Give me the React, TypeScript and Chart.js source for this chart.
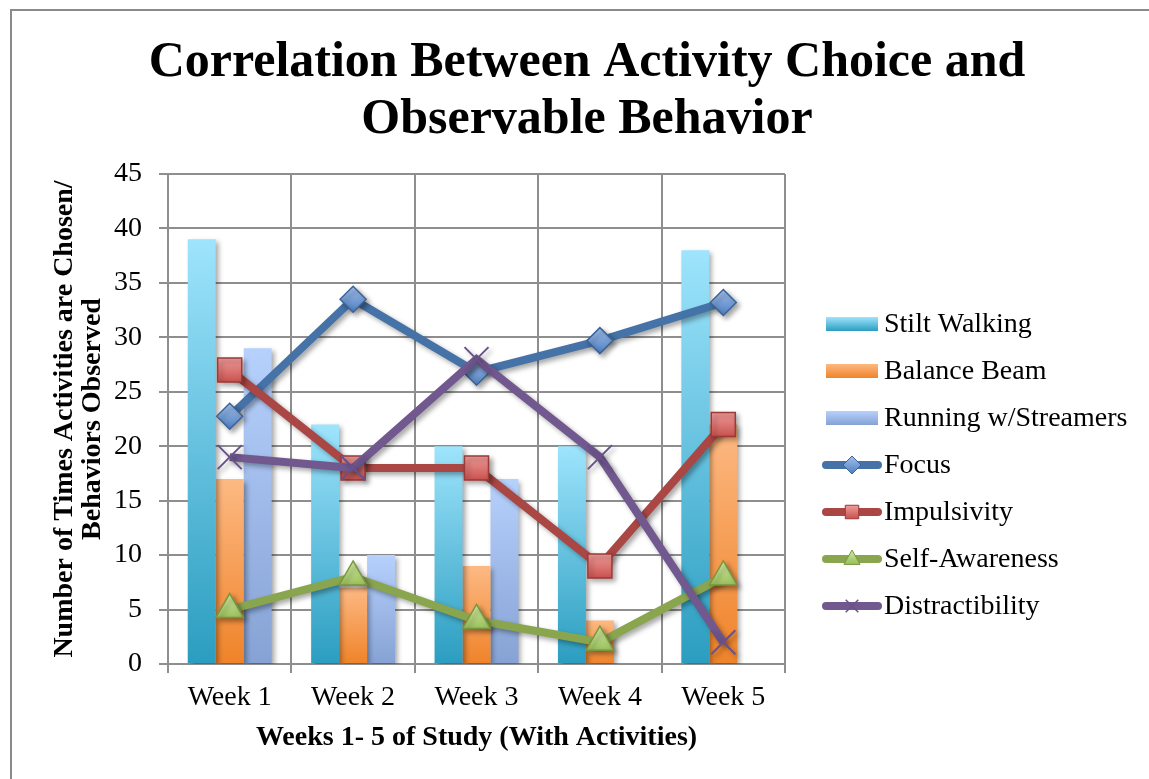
import React, { useEffect, useRef } from "react";
import { Chart, registerables } from "chart.js";

Chart.register(...registerables);

const weeks = ["Week 1", "Week 2", "Week 3", "Week 4", "Week 5"];
const stiltWalking = [39, 22, 20, 20, 38];
const balanceBeam = [17, 7, 9, 4, 22];
const runningStreamers = [29, 10, 17, 0, 0];
const focus = [22.75, 33.5, 26.8, 29.7, 33.2];
const impulsivity = [27, 18, 18, 9, 22];
const selfAwareness = [5, 8, 4, 2, 8];
const distractibility = [19, 18, 28, 19, 2];
const yTicks = [0, 5, 10, 15, 20, 25, 30, 35, 40, 45];

const titleLines = ["Correlation Between Activity Choice and", "Observable Behavior"];
const yTitle = ["Number of Times Activities are Chosen/", "Behaviors Observed"];
const xTitle = "Weeks 1- 5 of Study (With Activities)";

const SERIF = "'Liberation Serif', 'Times New Roman', serif";

const barColors = {
  stilt: ["#9EE4FC", "#2B9DC0"],
  balance: ["#FDB983", "#EF8329"],
  running: ["#B7D1FD", "#86A2D4"],
};
const lineColors = {
  focus: { line: "#4572A7", top: "#A3C0EC", bottom: "#4E7FC0", border: "#3B6398" },
  impulsivity: { line: "#AA4643", top: "#F6A9A8", bottom: "#C24440", border: "#9B3A37" },
  self: { line: "#89A54E", top: "#D1EAA2", bottom: "#8AB347", border: "#78963F" },
  distract: { line: "#71588F", top: "#71588F", bottom: "#71588F", border: "#6A518A" },
};

function barGradient(top: string, bottom: string) {
  return (c: any) => {
    const chart = c.chart;
    const { ctx, chartArea, scales } = chart;
    if (!chartArea || !scales.y || c.type !== "data") return top;
    const v = c.raw as number;
    const y0 = scales.y.getPixelForValue(v);
    const y1 = scales.y.getPixelForValue(0);
    if (!isFinite(y0) || !isFinite(y1) || y0 === y1) return top;
    const g = ctx.createLinearGradient(0, y0, 0, y1);
    g.addColorStop(0, top);
    g.addColorStop(1, bottom);
    return g;
  };
}

function pointGradient(top: string, bottom: string, r: number) {
  return (c: any) => {
    const chart = c.chart;
    const { ctx, chartArea, scales } = chart;
    if (!chartArea || !scales.y || c.type !== "data") return top;
    const y = scales.y.getPixelForValue(c.raw as number);
    if (!isFinite(y)) return top;
    const g = ctx.createLinearGradient(0, y - r, 0, y + r);
    g.addColorStop(0, top);
    g.addColorStop(1, bottom);
    return g;
  };
}

const framePlugin = {
  id: "frame",
  beforeDraw(chart: any) {
    const ctx = chart.ctx;
    ctx.save();
    ctx.fillStyle = "#ffffff";
    ctx.fillRect(0, 0, chart.width, chart.height);
    ctx.strokeStyle = "#8a8a8a";
    ctx.lineWidth = 2;
    ctx.beginPath();
    ctx.moveTo(chart.width + 5, 10);
    ctx.lineTo(11, 10);
    ctx.lineTo(11, chart.height + 5);
    ctx.stroke();
    // title
    ctx.fillStyle = "#000";
    ctx.font = `bold 50px ${SERIF}`;
    ctx.textAlign = "center";
    ctx.textBaseline = "alphabetic";
    ctx.fillText(titleLines[0], 587, 76);
    ctx.fillText(titleLines[1], 587, 133);
    ctx.restore();
  },
};

const shadowPlugin = {
  id: "shadow",
  beforeDatasetDraw(chart: any) {
    const ctx = chart.ctx;
    ctx.save();
    ctx.shadowColor = "rgba(0,0,0,0.35)";
    ctx.shadowBlur = 5;
    ctx.shadowOffsetX = 3;
    ctx.shadowOffsetY = 3;
  },
  afterDatasetDraw(chart: any) {
    chart.ctx.restore();
  },
};

function drawMarker(ctx: CanvasRenderingContext2D, kind: string, x: number, y: number, s: number, col: any) {
  ctx.beginPath();
  if (kind === "diamond") {
    ctx.moveTo(x, y - s);
    ctx.lineTo(x + s, y);
    ctx.lineTo(x, y + s);
    ctx.lineTo(x - s, y);
    ctx.closePath();
  } else if (kind === "square") {
    ctx.rect(x - s * 0.75, y - s * 0.75, s * 1.5, s * 1.5);
  } else if (kind === "triangle") {
    ctx.moveTo(x, y - s);
    ctx.lineTo(x + s * 0.9, y + s * 0.6);
    ctx.lineTo(x - s * 0.9, y + s * 0.6);
    ctx.closePath();
  } else {
    ctx.moveTo(x - s * 0.7, y - s * 0.7);
    ctx.lineTo(x + s * 0.7, y + s * 0.7);
    ctx.moveTo(x + s * 0.7, y - s * 0.7);
    ctx.lineTo(x - s * 0.7, y + s * 0.7);
    ctx.strokeStyle = col.border;
    ctx.lineWidth = 1.5;
    ctx.stroke();
    return;
  }
  const g = ctx.createLinearGradient(0, y - s, 0, y + s);
  g.addColorStop(0, col.top);
  g.addColorStop(1, col.bottom);
  ctx.fillStyle = g;
  ctx.fill();
  ctx.strokeStyle = col.border;
  ctx.lineWidth = 1;
  ctx.stroke();
}

const legendItems = [
  { label: "Stilt Walking", type: "bar", colors: barColors.stilt },
  { label: "Balance Beam", type: "bar", colors: barColors.balance },
  { label: "Running w/Streamers", type: "bar", colors: barColors.running },
  { label: "Focus", type: "line", marker: "diamond", colors: lineColors.focus },
  { label: "Impulsivity", type: "line", marker: "square", colors: lineColors.impulsivity },
  { label: "Self-Awareness", type: "line", marker: "triangle", colors: lineColors.self },
  { label: "Distractibility", type: "line", marker: "cross", colors: lineColors.distract },
];

const legendPlugin = {
  id: "customLegend",
  afterDraw(chart: any) {
    const ctx = chart.ctx;
    ctx.save();
    const x0 = 826;
    const textX = 884;
    let y = 324;
    const step = 47;
    ctx.font = `28px ${SERIF}`;
    ctx.textBaseline = "middle";
    ctx.textAlign = "left";
    legendItems.forEach((it: any) => {
      if (it.type === "bar") {
        const g = ctx.createLinearGradient(0, y - 7, 0, y + 7);
        g.addColorStop(0, it.colors[0]);
        g.addColorStop(1, it.colors[1]);
        ctx.fillStyle = g;
        ctx.fillRect(x0, y - 7, 52, 14);
      } else {
        ctx.strokeStyle = it.colors.line;
        ctx.lineWidth = 8;
        ctx.lineCap = "round";
        ctx.beginPath();
        ctx.moveTo(826, y);
        ctx.lineTo(878, y);
        ctx.stroke();
        ctx.lineCap = "butt";
        drawMarker(ctx, it.marker, 852, y, 9, it.colors);
      }
      ctx.fillStyle = "#000";
      ctx.fillText(it.label, textX, y + 1);
      y += step;
    });
    ctx.restore();
  },
};

export default function App() {
  const ref = useRef<HTMLCanvasElement | null>(null);

  useEffect(() => {
    if (!ref.current) return;
    const gridColor = "#8e8e8e";
    const lineDs = (label: string, data: number[], col: any, style: string, radius: number, order: number, bw: number) => ({
      type: "line" as const,
      label,
      data,
      order,
      borderColor: col.line,
      borderWidth: 8,
      tension: 0,
      fill: false,
      pointStyle: style,
      pointRadius: radius,
      pointHoverRadius: radius,
      pointBackgroundColor: pointGradient(col.top, col.bottom, radius),
      pointBorderColor: col.border,
      pointBorderWidth: bw,
    });
    const chart = new Chart(ref.current, {
      type: "bar",
      data: {
        labels: weeks,
        datasets: [
          { type: "bar", label: "Stilt Walking", data: stiltWalking, order: 10, backgroundColor: barGradient(barColors.stilt[0], barColors.stilt[1]), categoryPercentage: 0.68, barPercentage: 1.0 },
          { type: "bar", label: "Balance Beam", data: balanceBeam, order: 10, backgroundColor: barGradient(barColors.balance[0], barColors.balance[1]), categoryPercentage: 0.68, barPercentage: 1.0 },
          { type: "bar", label: "Running w/Streamers", data: runningStreamers, order: 10, backgroundColor: barGradient(barColors.running[0], barColors.running[1]), categoryPercentage: 0.68, barPercentage: 1.0 },
          lineDs("Focus", focus, lineColors.focus, "rectRot", 13, 4, 1.5),
          lineDs("Impulsivity", impulsivity, lineColors.impulsivity, "rect", 17, 3, 1.5),
          lineDs("Self-Awareness", selfAwareness, lineColors.self, "triangle", 16, 2, 1.5),
          lineDs("Distractibility", distractibility, lineColors.distract, "crossRot", 17, 1, 2),
        ] as any,
      },
      options: {
        animation: false,
        responsive: false,
        devicePixelRatio: 1,
        layout: { padding: { top: 174, right: 364, left: 0, bottom: 0 } },
        plugins: {
          legend: { display: false },
          title: { display: false },
          tooltip: { enabled: false },
        },
        scales: {
          x: {
            type: "category",
            offset: true,
            grid: { offset: true, color: gridColor, lineWidth: 2, tickLength: 9, drawTicks: true },
            border: { color: gridColor, width: 2 },
            ticks: { color: "#000", font: { family: SERIF, size: 28 }, padding: 8, maxRotation: 0 },
            title: { display: true, text: xTitle, color: "#000", font: { family: SERIF, size: 28, weight: "bold", lineHeight: 1.2 }, padding: { top: 0, bottom: 24 } },
            afterFit: (s: any) => { s.height = 115; },
          },
          y: {
            min: 0,
            max: 45,
            afterBuildTicks: (s: any) => { s.ticks = yTicks.map((v) => ({ value: v })); },
            grid: { color: gridColor, lineWidth: 2, tickLength: 9 },
            border: { color: gridColor, width: 2 },
            ticks: { color: "#000", font: { family: SERIF, size: 28 }, padding: 17 },
            title: { display: true, text: yTitle, color: "#000", font: { family: SERIF, size: 28, weight: "bold", lineHeight: 1.0 }, padding: { top: 51, bottom: 0 } },
            afterFit: (s: any) => { s.width = 168; },
          },
        },
      } as any,
      plugins: [framePlugin, shadowPlugin, legendPlugin],
    });
    return () => chart.destroy();
  }, []);

  return (
    <div style={{ position: "fixed", left: 0, top: 0, width: 1149, height: 779, background: "#fff" }}>
      <canvas ref={ref} width={1149} height={779} style={{ width: 1149, height: 779, display: "block" }} />
    </div>
  );
}
